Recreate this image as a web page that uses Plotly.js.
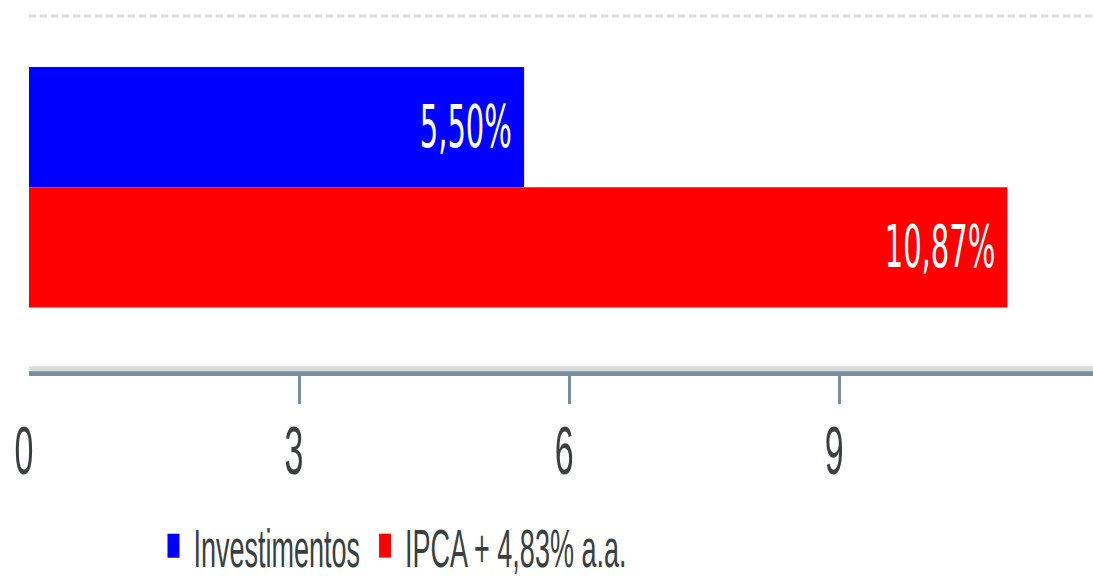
<!DOCTYPE html>
<html>
<head>
<meta charset="utf-8">
<script src="https://cdn.plot.ly/plotly-3.0.1.min.js"></script>
<style>
  html, body { margin: 0; padding: 0; background: #fff; overflow: hidden; }
  #wrap { width: 1093px; height: 579px; overflow: hidden; }
  /* the reference is stretched vertically, so draw at half height and scale up */
  #chart { width: 1093px; height: 290px; transform: scaleY(1.99655); transform-origin: 0 0; }
</style>
</head>
<body>
<div id="wrap"><div id="chart"></div></div>
<script>
const category = ['Rentabilidade'];
const seriesNames = ['Investimentos', 'IPCA + 4,83% a.a.'];
const investimentos = [5.50];
const ipca = [10.87];
const seriesColors = ['#0000ff', '#ff0000'];
const tickValues = [0, 3, 6, 9];
const tickLabels = ['0', '3', '6', '9'];
const tickMarks = [3, 6, 9];

const fmt = v => v.toFixed(2).replace('.', ',') + '%\u00a0';

const traces = [investimentos, ipca].map((vals, i) => ({
  type: 'bar',
  orientation: 'h',
  name: seriesNames[i],
  x: vals,
  y: category,
  marker: {color: seriesColors[i]},
  text: vals.map(fmt),
  textposition: 'inside',
  insidetextanchor: 'end',
  textangle: 0,
  constraintext: 'none',
  textfont: {family: 'DejaVu Sans, sans-serif', size: 29, color: '#ffffff'},
  hoverinfo: 'none'
}));

const layout = {
  width: 1093,
  height: 290,
  margin: {l: 29, r: 0, t: 8, b: 104, autoexpand: false},
  paper_bgcolor: '#ffffff',
  plot_bgcolor: '#ffffff',
  barmode: 'group',
  bargap: 0.323,
  bargroupgap: 0,
  font: {family: 'Liberation Sans, Arial, sans-serif', color: '#3a3f42'},
  xaxis: {
    range: [0, 11.82],
    tickvals: tickValues,
    ticktext: tickLabels,
    showgrid: false,
    zeroline: false,
    showline: true,
    linecolor: '#78909c',
    linewidth: 2.5,
    ticks: 'outside',
    ticklen: 14,
    tickwidth: 3,
    tickcolor: 'rgba(0,0,0,0)',
    minor: {
      tickmode: 'array',
      tickvals: tickMarks,
      ticks: 'outside',
      ticklen: 14,
      tickwidth: 3,
      tickcolor: '#78909c',
      showgrid: false
    },
    ticklabelstandoff: -6,
    ticklabelshift: -5,
    tickfont: {size: 34, color: '#3a3f42'},
    automargin: false,
    fixedrange: true
  },
  yaxis: {
    range: [0.518, -0.482],
    showticklabels: false,
    showgrid: false,
    zeroline: false,
    showline: false,
    automargin: false,
    fixedrange: true
  },
  showlegend: true,
  legend: {
    orientation: 'h',
    x: 0.117,
    xanchor: 'left',
    y: -0.493,
    yanchor: 'middle',
    font: {size: 27, color: '#3a3f42'},
    bgcolor: 'rgba(0,0,0,0)'
  },
  shapes: [
    {type: 'line', xref: 'paper', yref: 'paper', x0: 0, x1: 1, y0: 1, y1: 1,
     line: {color: '#dcdcdc', width: 1.5, dash: '7px,4px'}},
    {type: 'line', xref: 'paper', yref: 'paper', x0: 0, x1: 1,
     ysizemode: 'pixel', yanchor: 0, y0: 1.25, y1: 1.25,
     line: {color: '#d9dcdc', width: 2.5}}
  ]
};

Plotly.newPlot('chart', traces, layout, {displayModeBar: false, staticPlot: true});
</script>
</body>
</html>
